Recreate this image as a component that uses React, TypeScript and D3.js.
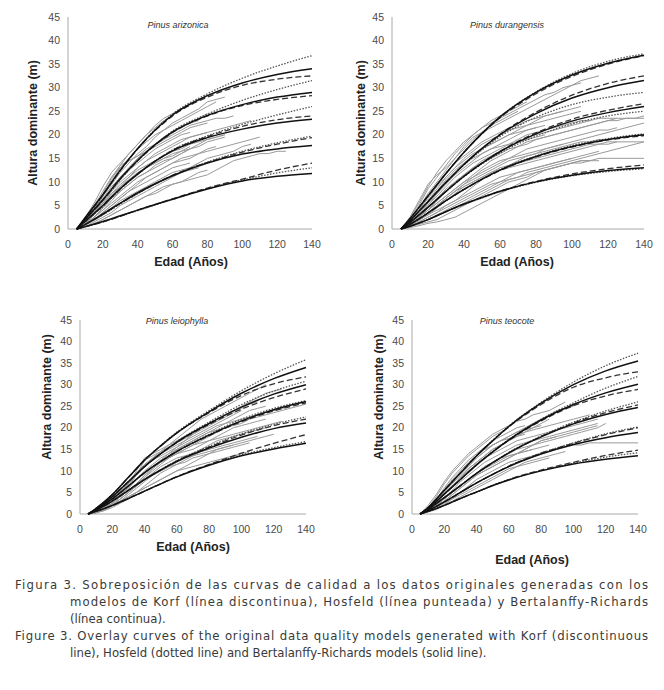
import React from 'react';
import * as d3 from 'd3';

// ---------- DATA ----------
const MODEL_AGES = [5, 10, 20, 30, 40, 50, 60, 80, 100, 120, 140];
const OBS_AGES = [5, 10, 15, 20, 25, 30, 35, 40, 45, 50, 55, 60, 65, 70, 75, 80, 85, 90, 95, 100, 105, 110, 115, 120, 125, 130, 135, 140];
const X_TICKS = [0, 20, 40, 60, 80, 100, 120, 140];
const Y_TICKS = [0, 5, 10, 15, 20, 25, 30, 35, 40, 45];
const TITLES = ['Pinus arizonica', 'Pinus durangensis', 'Pinus leiophylla', 'Pinus teocote'];
const X_LABEL = 'Edad (Años)';
const Y_LABEL = 'Altura dominante (m)';

// Bertalanffy-Richards (solid)
const P1_SOLID = [
  [0, 2.5, 7.3, 12.5, 17.1, 21, 24.2, 28.3, 31, 32.8, 34],
  [0, 2.1, 6.2, 10.7, 14.6, 17.9, 20.6, 24.1, 26.4, 28, 29],
  [0, 1.7, 5, 8.6, 11.7, 14.4, 16.6, 19.4, 21.2, 22.5, 23.3],
  [0, 1, 3.2, 5.5, 7.7, 9.6, 11.3, 14, 15.9, 17, 17.7],
  [0, 0.5, 1.6, 2.8, 4, 5.2, 6.3, 8.5, 10.2, 11.2, 11.8],
];
// Korf (dashed)
const P1_DASHED = [
  [0, 2.4, 7.2, 12.4, 17, 20.9, 24, 28, 30.5, 31.8, 32.5],
  [0, 2, 6.1, 10.6, 14.5, 17.8, 20.5, 24, 26.2, 27.5, 28.3],
  [0, 1.6, 4.9, 8.5, 11.7, 14.4, 16.7, 19.6, 21.8, 23.2, 24],
  [0, 1, 3.1, 5.4, 7.6, 9.6, 11.4, 14.1, 16.3, 18, 19.4],
  [0, 0.5, 1.5, 2.7, 4, 5.2, 6.4, 8.7, 10.6, 12.5, 14],
];
// Hossfeld (dotted)
const P1_DOTTED = [
  [0, 2.3, 7.1, 12.4, 17.1, 21.1, 24.4, 28.7, 32, 34.6, 36.8],
  [0, 2, 6, 10.5, 14.5, 17.9, 20.8, 24.4, 27.3, 29.6, 31.5],
  [0, 1.6, 4.8, 8.4, 11.6, 14.4, 16.8, 19.8, 22.2, 24.2, 26],
  [0, 1, 3, 5.3, 7.5, 9.5, 11.3, 14.2, 16.5, 18.3, 19.7],
  [0, 0.5, 1.5, 2.7, 3.9, 5.1, 6.3, 8.6, 10.4, 11.9, 13],
];

const P2_SOLID = [
  [0, 2.2, 7, 11.8, 16.3, 20.3, 23.8, 29, 32.7, 35.2, 36.9],
  [0, 1.8, 5.8, 9.9, 13.7, 17.1, 20, 24.5, 27.8, 30, 31.5],
  [0, 1.4, 4.6, 8, 11.2, 14, 16.4, 20.2, 22.9, 24.7, 26],
  [0, 1, 3.4, 6, 8.4, 10.6, 12.5, 15.4, 17.5, 19, 20],
  [0, 0.6, 2, 3.7, 5.3, 6.7, 8, 10, 11.4, 12.4, 13],
];
const P2_DASHED = [
  [0, 2.2, 7, 11.8, 16.3, 20.2, 23.6, 28.7, 32.4, 35, 36.8],
  [0, 1.8, 5.8, 9.9, 13.7, 17.1, 20.1, 24.8, 28.4, 30.9, 32.5],
  [0, 1.4, 4.6, 8, 11.2, 14, 16.5, 20.4, 23.3, 25.2, 26.6],
  [0, 1, 3.4, 6, 8.4, 10.5, 12.4, 15.3, 17.4, 18.9, 19.8],
  [0, 0.6, 2, 3.7, 5.3, 6.7, 8, 10.1, 11.7, 12.8, 13.6],
];
const P2_DOTTED = [
  [0, 2.2, 7, 11.8, 16.3, 20.3, 23.8, 29.1, 33, 35.6, 37.2],
  [0, 1.8, 5.8, 9.9, 13.6, 16.8, 19.6, 23.7, 26.4, 28, 29],
  [0, 1.4, 4.6, 8, 11.1, 13.8, 16.1, 19.7, 22.3, 24, 25],
  [0, 1, 3.4, 6, 8.4, 10.6, 12.6, 15.5, 17.7, 19.2, 20.2],
  [0, 0.6, 2, 3.7, 5.2, 6.6, 7.9, 9.9, 11.3, 12.2, 12.8],
];

const P3_SOLID = [
  [0, 1.3, 4.5, 8.5, 12.5, 15.8, 18.8, 23.7, 28, 31.4, 34],
  [0, 1.1, 4, 7.5, 11, 14, 16.7, 21, 24.8, 27.8, 30],
  [0, 1, 3.5, 6.5, 9.6, 12.2, 14.5, 18.3, 21.6, 24.2, 26.1],
  [0, 0.9, 3, 5.5, 8, 10.2, 12.2, 15.3, 17.8, 19.8, 21.1],
  [0, 0.6, 2, 3.6, 5.3, 7, 8.6, 11.3, 13.5, 15.1, 16.4],
];
const P3_DASHED = [
  [0, 1.3, 4.5, 8.5, 12.5, 15.8, 18.8, 23.5, 27.5, 30.2, 31.8],
  [0, 1.1, 4, 7.5, 11, 14, 16.6, 20.8, 24.3, 27, 29],
  [0, 1, 3.5, 6.5, 9.6, 12.2, 14.5, 18.2, 21.4, 23.9, 25.8],
  [0, 0.9, 3, 5.5, 8, 10.2, 12.3, 15.5, 18.3, 20.5, 22],
  [0, 0.6, 2, 3.6, 5.3, 7, 8.7, 11.5, 14.1, 16.4, 18.4],
];
const P3_DOTTED = [
  [0, 1.3, 4.5, 8.5, 12.5, 15.9, 19, 24, 28.6, 32.5, 35.8],
  [0, 1.1, 4, 7.5, 11, 14, 16.8, 21.3, 25.4, 28.5, 30.8],
  [0, 1, 3.5, 6.5, 9.6, 12.2, 14.6, 18.5, 22, 24.5, 26.3],
  [0, 0.9, 3, 5.5, 8, 10.3, 12.4, 15.7, 18.6, 20.8, 22.5],
  [0, 0.6, 2, 3.6, 5.3, 7, 8.6, 11.4, 13.7, 15.4, 16.8],
];

const P4_SOLID = [
  [0, 1.5, 5.5, 9.5, 13.5, 17, 20.3, 25.7, 30, 33.2, 35.5],
  [0, 1.3, 4.6, 8, 11.4, 14.4, 17.2, 21.8, 25.4, 28.1, 30.1],
  [0, 1.1, 3.8, 6.6, 9.4, 11.9, 14.2, 17.9, 20.9, 23.1, 24.7],
  [0, 0.8, 2.8, 5, 7.2, 9.2, 11, 13.9, 16.1, 17.7, 18.9],
  [0, 0.6, 2, 3.6, 5.1, 6.6, 7.9, 10, 11.6, 12.7, 13.5],
];
const P4_DASHED = [
  [0, 1.5, 5.5, 9.5, 13.5, 17, 20.2, 25.4, 29.4, 31.6, 33],
  [0, 1.3, 4.6, 8, 11.4, 14.4, 17.1, 21.6, 25.1, 27.4, 28.9],
  [0, 1.1, 3.8, 6.6, 9.4, 11.9, 14.2, 18, 21.1, 23.5, 25.3],
  [0, 0.8, 2.8, 5, 7.2, 9.2, 11.1, 14.1, 16.4, 18.4, 20],
  [0, 0.6, 2, 3.6, 5.1, 6.6, 8, 10.2, 12, 13.6, 14.8],
];
const P4_DOTTED = [
  [0, 1.5, 5.5, 9.5, 13.5, 17.1, 20.4, 25.9, 30.6, 34.4, 37.3],
  [0, 1.3, 4.6, 8, 11.4, 14.5, 17.3, 22, 25.8, 29.2, 31.9],
  [0, 1.1, 3.8, 6.6, 9.4, 11.9, 14.3, 18.1, 21.3, 23.9, 26],
  [0, 0.8, 2.8, 5, 7.2, 9.2, 11.1, 14.1, 16.5, 18.6, 20.2],
  [0, 0.6, 2, 3.6, 5.1, 6.6, 8, 10.1, 11.8, 13.2, 14.2],
];

// Observed stem-analysis series (heights at OBS_AGES, from age 5)
const P1_OBS = [
  [0, 2.5, 5.5, 9, 12, 14, 16, 18, 20, 22, 23.5, 24.5, 25.5, 26.5],
  [0, 2, 4.5, 7, 9.5, 12, 14, 16, 17.5, 19.5, 21, 22.5, 23.5, 24.5, 25.5, 27, 27.5, 28],
  [0, 1.5, 4, 6.5, 9, 11, 13, 15, 16.5, 18, 19.5, 20.5, 21.5, 22.5, 23.5, 24.5],
  [0, 1.8, 4.2, 7, 10, 13, 14.5, 15.5, 17, 18, 19, 20, 21, 22, 22.5, 23, 23.5, 23.5, 24],
  [0, 1.5, 3.5, 6, 8, 10, 11.5, 13, 14.5, 15.5, 16.5, 17.5, 18.5, 19.5, 20, 20.5, 21, 21.5, 22, 22.5, 23],
  [0, 1.2, 3, 5, 7.5, 9.5, 11, 12.5, 13.5, 14.5, 15.5, 16.5, 17, 18, 18.5, 19, 19.5, 20],
  [0, 1, 2.5, 4.5, 6.5, 8.5, 10, 11.5, 13, 14, 15, 16, 16.5, 17.5],
  [0, 1.5, 3.5, 5.5, 7.5, 9, 10.5, 12, 13, 14, 15, 15.5, 16.5, 17, 18, 19, 19.5, 20],
  [0, 1, 2.5, 4, 5.5, 7, 8.5, 10, 11, 12, 13, 14, 14.5, 15, 16, 16.5, 17, 17.5, 18, 18.5, 19, 19.5],
  [0, 0.8, 2, 3.5, 5, 6.5, 8, 9, 10, 11, 12, 13, 13.5, 14],
  [0, 1, 2.5, 4.5, 6.5, 8, 9.5, 11, 12, 13.5, 14.5, 15, 16, 17],
  [0, 0.5, 1.5, 2.5, 3.5, 5, 6, 7, 8, 9, 10, 11, 12, 13, 14],
  [0, 0.8, 2, 3, 4.5, 6, 7, 8, 9, 10, 11, 12, 12.5, 13, 14, 15, 15.5, 16, 16.5, 17.5, 18],
  [0, 0.5, 1, 2, 3, 4, 5, 6, 7, 8, 9, 9.5, 10, 10.5, 11, 11.5, 12.5, 13.5, 14.5, 15, 15.5, 16, 16, 16.5, 16.5],
  [0, 1.5, 3.5, 6, 8.5, 11, 13, 15, 16.5, 18, 19, 20.5, 21.5, 22.5, 23],
  [0, 2, 5, 8, 11, 13.5, 16, 18, 20, 21.5, 23, 24],
  [0, 1.2, 3, 5.5, 8, 10.5, 12.5, 14, 15.5, 17, 18, 19, 20, 20.5],
  [0, 1, 2.5, 4, 6, 8, 9.5, 11, 12, 13, 14, 15, 16, 17, 17.5, 18.5, 19, 19.5],
  [0, 1.5, 4, 7, 10.5, 13.5, 14.5, 15.5, 16.5, 17.5, 18.5, 19.5, 20.5, 21.5, 22, 22.5],
  [0, 2, 4.5, 7.5, 11, 13, 15, 17, 18.5, 20, 21, 22, 23, 24, 25, 26, 27],
  [0, 0.5, 1.2, 2, 3, 4, 5, 6, 7, 7.5, 8.5, 9.5, 10, 11, 12, 12.5],
  [0, 0.8, 1.8, 3, 4.5, 5.5, 6.5, 7.5, 8.5, 9.5, 10.5, 11.5, 12, 12.5, 13],
  [0, 1, 2, 3.5, 5, 6.5, 8, 9.5, 11, 12, 13, 14, 15, 15.5, 16, 17, 17.5],
  [0, 1.5, 3, 5, 7, 9, 11, 13, 14.5, 16, 17, 18, 19, 19.5, 20, 20.5],
];

const P2_OBS = [
  [0, 2, 5, 8.5, 11, 13.5, 16, 18, 20, 21.5, 23, 24, 25, 26, 27],
  [0, 2.5, 6, 9.5, 11.5, 13, 15, 17.5, 19.5, 20.5, 21.5, 22.5, 23.5, 24.5, 25.5, 26.5, 27.5, 28.5, 29.5, 30.5, 31.5, 32, 32.5],
  [0, 1.5, 4, 7, 9.5, 12, 14, 15.5, 17, 18.5, 19.5, 20.5, 21.5, 22, 23, 23.5, 24, 24.5, 25],
  [0, 1.2, 3, 5, 7, 9, 11, 12.5, 14, 15, 16, 17, 18, 19, 20, 20.5, 21, 21.5, 22, 22.5, 23, 23, 23.5, 23.5, 23.5, 23.5, 23.5, 23.5],
  [0, 1, 2.5, 4.5, 6.5, 8.5, 10, 11.5, 13, 14, 15, 16, 17, 17.5, 18, 19, 19.5, 20, 20.5, 21, 21.5, 22, 22.5, 23, 23, 23.5, 23.5, 24],
  [0, 1, 2, 3.5, 5, 6.5, 8, 9.5, 10.5, 11.5, 12.5, 13.5, 14.5, 15, 15.5, 16, 16.5, 17, 17.5, 18, 18.5, 18.5, 19, 19],
  [0, 0.8, 2, 3.5, 5, 6.5, 8, 9, 10, 11, 12, 13, 13.5, 14, 14.5, 15, 15.5, 16, 16.5, 17, 17.5, 18, 18, 18.5, 18.5, 18.5, 18.5, 18.5],
  [0, 0.5, 1.5, 2.5, 3.5, 4.5, 5.5, 6.5, 7.5, 8.5, 9.5, 10, 10.5, 11, 11.5, 12, 12.5, 13, 13.5, 14, 14.5, 14.5, 15, 15, 15, 15, 15, 15],
  [0, 0.5, 1, 1.5, 2, 3, 4, 5, 6, 7, 8, 9, 10, 10.5, 11, 12, 12.5, 13, 13.5, 14, 14.5, 14.5],
  [0, 0.3, 0.7, 1.2, 1.5, 2, 2.5, 3.5, 4.5, 5.5, 6.5, 7.5, 8.5, 9.5, 10.5, 11.5, 12.5, 13, 13.5, 14, 14, 14.5, 14.5],
  [0, 1.5, 3.5, 6, 8.5, 11, 13, 15, 16.5, 18, 19, 20, 21, 21.5, 22, 22.5, 23, 23.5, 24, 24.5, 25],
  [0, 2, 4.5, 7.5, 10, 12.5, 15, 17, 19, 20.5, 22, 23, 24, 25],
  [0, 1.5, 3, 5, 7.5, 10, 12, 14, 15.5, 17, 18, 19, 20, 20.5, 21, 21.5],
  [0, 1, 2.5, 4, 6, 8, 10, 11.5, 13, 14.5, 15.5, 16.5, 17.5, 18.5, 19.5, 20, 20.5, 21, 21.5, 22, 22.5, 23],
  [0, 1, 3, 5.5, 8, 10.5, 12.5, 14, 15, 16, 17, 17.5, 18, 18.5, 19, 19.5, 20],
  [0, 1.2, 2.5, 4, 5.5, 7, 8.5, 10, 11, 12, 13, 14, 15, 16, 17, 17.5, 18, 18.5, 19, 19.5, 20, 20.5, 21, 21, 21.5],
  [0, 0.6, 1.5, 2.5, 3.5, 5, 6, 7, 8, 9, 10, 11, 11.5, 12, 12.5, 13, 13.5, 14, 14.5, 15, 15.5, 16, 16.5],
  [0, 0.8, 1.8, 3, 4.5, 6, 7.5, 9, 10, 11, 12, 12.5, 13, 13.5, 14, 14.5, 15, 15.5, 16, 16.5, 17, 17.5, 18, 18, 18.5],
  [0, 1.5, 3.5, 5.5, 7.5, 9.5, 11.5, 13, 14.5, 16, 17, 18, 19, 20, 21, 21.5, 22],
  [0, 0.5, 1.2, 2, 3, 4, 5, 6, 7, 8, 9, 10, 11, 12, 12.5, 13, 13.5, 14, 14.5, 15],
  [0, 2.5, 5.5, 9, 12, 14.5, 16.5, 18.5, 20, 21.5, 22.5, 23.5, 24.5, 25.5, 26.5, 27.5, 28.5, 29, 30, 30.5, 31],
  [0, 1, 2, 3, 4, 5, 6, 7.5, 9, 10.5, 11.5, 12.5, 13.5, 14.5, 15.5, 16, 17, 17.5, 18, 18.5, 19, 19.5, 20, 20.5, 21, 21.5, 22, 22.5],
  [0, 1.8, 4, 6.5, 9, 11, 13, 14.5, 16, 17, 18, 19, 20, 21, 22, 23, 24, 24.5, 25, 25.5, 26],
  [0, 0.8, 2, 3.5, 5, 6.5, 8, 9.5, 11, 12.5, 13.5, 14.5, 15, 15.5, 16, 16.5, 17, 17.5, 18],
  [0, 1, 2.5, 4, 5.5, 7, 8.5, 10, 11.5, 13, 14.5, 15.5, 16.5, 17.5, 18.5, 19, 19.5, 20, 20.5, 21, 21.5, 22, 22.5, 23, 23.5],
  [0, 0.5, 1.2, 2, 2.8, 3.6, 4.5, 5.5, 6.5, 7.5, 8.5, 9.5, 10.5, 11, 12, 12.5, 13, 13.5, 14, 14.5, 15, 15.5, 16, 16.5, 17, 17.5, 18, 18.5],
];

const P3_OBS = [
  [0, 0.5, 1.5, 3, 5, 7, 10, 13, 14, 15, 16, 17, 18, 19, 20, 21, 22, 23, 24],
  [0, 0.5, 1.5, 3, 4.5, 6.5, 9, 12.5, 13.5, 14.5, 15.5, 16.5, 17.5, 18.5, 19.5, 20.5, 21.5, 22.5, 23.5, 24.5, 25.5, 26],
  [0, 0.4, 1.2, 2.5, 4, 5.5, 7, 9, 10.5, 12, 13.5, 15, 16, 17, 18, 19, 20, 21, 22, 23, 24, 24.5, 25],
  [0, 0.5, 1.5, 2.5, 4, 5.5, 7, 8.5, 10, 11.5, 13, 14, 15, 16, 17, 18, 19, 20, 21, 21.5, 22],
  [0, 0.3, 1, 2, 3, 4.5, 6, 7.5, 9, 10, 11, 12, 13, 14, 15, 16, 17, 17.5, 18, 18.5, 19, 19.5, 20],
  [0, 0.4, 1.2, 2.5, 4, 5.5, 7, 8, 9, 10, 11, 11.5, 12, 13, 13.5, 14, 14.5, 15, 15.5, 16, 16.5],
  [0, 0.5, 1.5, 3, 4.5, 6, 8, 10, 11.5, 13, 14, 15, 16, 17, 18, 19, 19.5, 20, 20.5, 21, 22, 22.5, 23, 23.5, 24, 24.5, 25, 25.5],
  [0, 0.3, 0.8, 1.5, 2.5, 3.5, 5, 6.5, 8, 9.5, 10.5, 11.5, 12.5, 13.5, 14.5, 15, 15.5, 16, 16.5, 17, 17.5, 18],
  [0, 0.5, 1.5, 3, 5, 7, 9, 11, 13, 14.5, 16, 17.5, 19, 20.5, 22, 23, 24, 25, 26, 27, 28, 29, 30],
  [0, 0.4, 1, 2, 3.5, 5, 6.5, 8, 9.5, 11, 12, 13, 13.5, 14, 14.5, 15],
  [0, 0.6, 1.8, 3.5, 5.5, 7.5, 9.5, 11.5, 12.5, 13.5, 14.5, 15.5, 16.5, 17.5, 18.5, 19.5, 20.5, 21, 21.5, 22, 22.5, 23, 23.5, 24, 24.5, 25],
  [0, 0.3, 1, 2, 3, 4, 5, 6, 7, 8, 9, 10, 11, 12, 13, 14, 15, 15.5, 16],
  [0, 0.5, 1.2, 2.2, 3.5, 5, 6.5, 8.5, 10.5, 12, 13, 14, 15, 16, 16.5, 17, 17.5, 18, 18.5, 19, 19.5, 20, 20.5, 21, 21.5],
  [0, 0.4, 1.5, 3, 4.5, 6, 8, 9.5, 11, 12.5, 14, 15.5, 17, 18.5, 20, 21, 22, 23, 24, 25, 26, 27, 28, 28.5, 29],
  [0, 0.5, 1.2, 2.5, 4, 5.5, 7, 9, 11, 12, 13, 14, 14.5, 15, 16, 17, 18, 19, 20, 20.5, 21, 21.5, 22],
  [0, 0.3, 0.8, 1.8, 3, 4, 5, 6, 7, 8, 9, 10, 10.5, 11, 11.5, 12, 12.5, 13, 13.5, 14, 14.5],
  [0, 0.5, 1.5, 3, 5, 7, 9, 11.5, 13, 14, 15, 16, 17, 18, 19, 20, 21, 22, 23, 24],
  [0, 0.4, 1, 2, 3.5, 5, 6.5, 8, 9, 10, 11, 12, 13, 13.5, 14, 14.5, 15, 15.5, 16, 16.5, 17, 17.5, 18, 18.5],
];

const P4_OBS = [
  [0, 1.5, 4, 7, 9.5, 11.5, 13.5, 15, 16.5, 18, 19, 20],
  [0, 2, 4.5, 7.5, 10, 12, 14, 15.5, 17, 18.5, 19.5, 20.5, 21.5, 22, 23, 23.5, 24, 25, 26],
  [0, 1.5, 3.5, 6, 8.5, 10.5, 12.5, 14, 15.5, 17, 18, 19, 20, 20.5],
  [0, 1, 3, 5, 7.5, 9.5, 11.5, 13, 14.5, 16, 17, 18, 19, 19.5, 20, 20.5],
  [0, 1, 2.5, 4.5, 6.5, 8.5, 10, 11.5, 13, 14, 15, 16, 17, 17.5, 18, 18.5, 19, 19.5, 20, 20.5, 21, 21.5, 22],
  [0, 0.8, 2, 3.5, 5, 6.5, 8, 9.5, 11, 12, 13, 14, 15, 15.5, 16, 16.5, 17, 17.5, 18, 18.5, 19, 19.5, 20, 21],
  [0, 0.6, 1.5, 3, 4.5, 6, 7.5, 9, 10, 11, 12, 13, 14, 14.5, 15, 15.5, 16],
  [0, 0.5, 1.2, 2.2, 3.5, 5, 6.5, 8, 9, 10, 11, 12, 12.5, 13, 13.5, 14, 14.5, 15, 15.5, 16, 16, 16.5, 16.5, 16.5, 16.5, 16.5, 16.5, 16.5],
  [0, 0.8, 2, 3.5, 5.5, 7.5, 9, 10.5, 12, 13, 14, 15, 16, 16.5, 17, 17.5, 18, 18.5, 19, 19.5, 20, 20.5, 21],
  [0, 1.2, 3, 5, 7, 9, 11, 13, 14.5, 16, 17, 18, 19, 20, 21, 22, 23, 24, 24.5, 25],
  [0, 0.5, 1, 2, 3, 4, 5, 6, 7, 8, 9, 10, 11, 12, 12.5, 13, 13.5, 14, 14.5],
  [0, 0.8, 2, 3.5, 5, 6.5, 8, 9.5, 10.5, 11.5, 12.5, 13.5, 14, 14.5, 15],
  [0, 1, 2.5, 4.5, 6.5, 8.5, 10.5, 12, 13.5, 15, 16, 17, 18, 19, 19.5, 20, 20.5, 21, 21.5, 22, 22.5, 23],
  [0, 0.5, 1.5, 2.5, 3.5, 4.5, 5.5, 6.5, 7.5, 8.5, 9.5, 10.5, 11, 11.5, 12, 12.5, 13],
  [0, 1.5, 3, 5.5, 8, 10, 12, 13.5, 15, 16, 17, 17.5, 18, 18.5],
  [0, 1, 2, 3.5, 5, 6.5, 8, 9.5, 11, 12, 13, 13.5, 14, 15, 16, 17, 17.5, 18],
  [0, 0.8, 1.8, 3, 4.5, 6, 7.5, 9, 10, 11, 12, 13, 14, 15, 16, 17, 17.5, 18, 18.5, 19, 19.5, 20, 20.5],
  [0, 1.2, 2.8, 4.5, 6.5, 8.5, 10.5, 12, 13.5, 15, 16, 17, 18, 19, 20, 21, 22],
];

const CAPTION_ES = [
  'Figura 3. Sobreposición de las curvas de calidad a los datos originales generadas con los',
  'modelos de Korf (línea discontinua), Hosfeld (línea punteada) y Bertalanffy-Richards',
  '(línea continua).',
];
const CAPTION_EN = [
  'Figure 3. Overlay curves of the original data quality models generated with Korf (discontinuous',
  'line), Hosfeld (dotted line) and Bertalanffy-Richards models (solid line).',
];

// ---------- LAYOUT ----------
type Layout = {
  x0: number; x1: number; y0: number; y1: number;
  ylabX: number; ylabY: number; titleX: number; titleY: number;
  xlabX: number; xlabY: number; tickY: number;
};

const LAYOUTS: Layout[] = [
  { x0: 68, x1: 312, y0: 229, y1: 17, ylabX: 33, ylabY: 123, titleX: 178, titleY: 28, xlabX: 191, xlabY: 266, tickY: 248 },
  { x0: 392, x1: 644, y0: 229, y1: 17, ylabX: 361, ylabY: 123, titleX: 507, titleY: 28, xlabX: 517, xlabY: 266, tickY: 248 },
  { x0: 80, x1: 306, y0: 514, y1: 320, ylabX: 47, ylabY: 397, titleX: 177, titleY: 324, xlabX: 193, xlabY: 551, tickY: 533 },
  { x0: 412, x1: 638, y0: 514, y1: 320, ylabX: 379, ylabY: 397, titleX: 507, titleY: 324, xlabX: 532, xlabY: 564, tickY: 533 },
];

const PANELS = [
  { title: TITLES[0], solid: P1_SOLID, dashed: P1_DASHED, dotted: P1_DOTTED, obs: P1_OBS },
  { title: TITLES[1], solid: P2_SOLID, dashed: P2_DASHED, dotted: P2_DOTTED, obs: P2_OBS },
  { title: TITLES[2], solid: P3_SOLID, dashed: P3_DASHED, dotted: P3_DOTTED, obs: P3_OBS },
  { title: TITLES[3], solid: P4_SOLID, dashed: P4_DASHED, dotted: P4_DOTTED, obs: P4_OBS },
];

const AXIS_FONT = 'Arial, "Liberation Sans", sans-serif';

function Panel({ p, L }: { p: typeof PANELS[number]; L: Layout }) {
  const x = d3.scaleLinear().domain([0, 140]).range([L.x0, L.x1]);
  const y = d3.scaleLinear().domain([0, 45]).range([L.y0, L.y1]);
  const smooth = d3.line<[number, number]>().x(d => x(d[0])).y(d => y(d[1])).curve(d3.curveMonotoneX);
  const jag = d3.line<[number, number]>().x(d => x(d[0])).y(d => y(d[1])).curve(d3.curveLinear);
  const modelPts = (arr: number[]) => arr.map((v, i) => [MODEL_AGES[i], v] as [number, number]);
  const obsPts = (arr: number[]) => arr.map((v, i) => [OBS_AGES[i], v] as [number, number]);

  return (
    <g>
      <line x1={x(0)} x2={x(0)} y1={y(0)} y2={y(45)} stroke="#a8a8a8" strokeWidth={1} />
      <line x1={x(0)} x2={x(140)} y1={y(0)} y2={y(0)} stroke="#a8a8a8" strokeWidth={1} />
      {Y_TICKS.map(t => (
        <text key={'y' + t} x={x(0) - 8} y={y(t)} dy="0.35em" textAnchor="end" fontSize={10.5} fill="#4a4a4a" fontFamily={AXIS_FONT}>{t}</text>
      ))}
      {X_TICKS.map(t => (
        <text key={'x' + t} x={x(t)} y={L.tickY} textAnchor="middle" fontSize={10.5} fill="#4a4a4a" fontFamily={AXIS_FONT}>{t}</text>
      ))}
      {p.obs.map((s, i) => (
        <path key={'o' + i} d={jag(obsPts(s)) || ''} fill="none" stroke="#9a9a9a" strokeWidth={1} />
      ))}
      {p.dotted.map((s, i) => (
        <path key={'h' + i} d={smooth(modelPts(s)) || ''} fill="none" stroke="#555" strokeWidth={1.3} strokeDasharray="1.5 1.5" />
      ))}
      {p.dashed.map((s, i) => (
        <path key={'k' + i} d={smooth(modelPts(s)) || ''} fill="none" stroke="#333" strokeWidth={1.3} strokeDasharray="6 3" />
      ))}
      {p.solid.map((s, i) => (
        <path key={'b' + i} d={smooth(modelPts(s)) || ''} fill="none" stroke="#111" strokeWidth={1.5} />
      ))}
      <text x={L.titleX} y={L.titleY} textAnchor="middle" fontSize={9} fontStyle="italic" fill="#333" fontFamily={AXIS_FONT}>{p.title}</text>
      <text x={L.xlabX} y={L.xlabY} textAnchor="middle" fontSize={12.5} fontWeight="bold" fill="#222" fontFamily={AXIS_FONT}>{X_LABEL}</text>
      <text transform={`translate(${L.ylabX},${L.ylabY}) rotate(-90)`} textAnchor="middle" dy="0.35em" fontSize={12.5} fontWeight="bold" fill="#222" fontFamily={AXIS_FONT}>{Y_LABEL}</text>
    </g>
  );
}

const CAP_FONT = '"DejaVu Sans Condensed", "Liberation Sans Narrow", sans-serif';

export default function App() {
  const capLines = [
    { t: CAPTION_ES[0], x: 15, y: 584, w: 633 },
    { t: CAPTION_ES[1], x: 70, y: 601, w: 578 },
    { t: CAPTION_ES[2], x: 70, y: 618, w: 0 },
    { t: CAPTION_EN[0], x: 15, y: 635, w: 633 },
    { t: CAPTION_EN[1], x: 70, y: 652, w: 0 },
  ];
  return (
    <svg width={664} height={690} style={{ position: 'absolute', left: 0, top: 0, background: '#fff' }}>
      <rect width={664} height={690} fill="#fff" />
      {PANELS.map((p, i) => <Panel key={i} p={p} L={LAYOUTS[i]} />)}
      {capLines.map((c, i) => (
        <text key={i} x={c.x} y={c.y} dy="0.35em" fontSize={13} fontWeight={300} fill="#3a3a3a" fontFamily={CAP_FONT}
          {...(c.w ? { textLength: c.w, lengthAdjust: 'spacing' } : {})}>{c.t}</text>
      ))}
    </svg>
  );
}
